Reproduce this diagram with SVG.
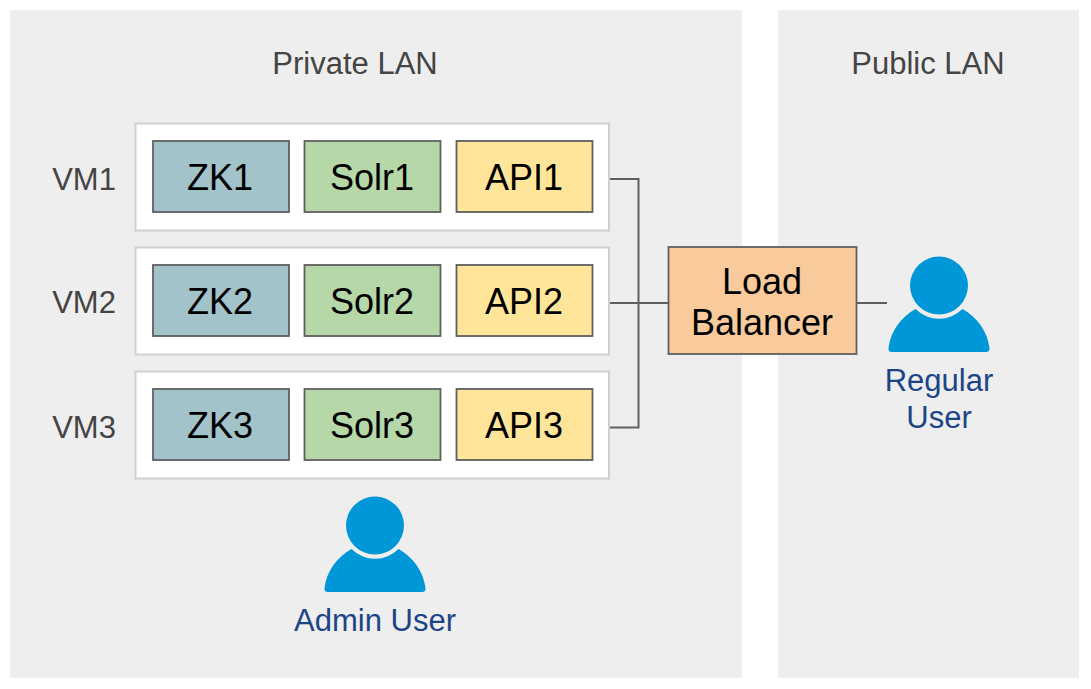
<svg xmlns="http://www.w3.org/2000/svg" width="1091" height="689" viewBox="0 0 1091 689">
<style>
text{font-family:"Liberation Sans",Arial,sans-serif;text-anchor:middle}
.lan{fill:#eeeeee}
.vm{fill:#fff;stroke:#d0d0d0;stroke-width:2}
.c{stroke:#5f5f5f;stroke-width:1.8}
.zk{fill:#a2c3c9}.solr{fill:#b6d7a8}.api{fill:#ffe599}.lb{fill:#f9cb9c}
.t{font-size:36px;fill:#000}
.l{font-size:31px;fill:#444}
.u{font-size:31px;fill:#1c4587}
.wire{fill:none;stroke:#5f5f5f;stroke-width:2}
.ic{fill:#0097d8}
</style>
<defs>
<g id="person">
<circle class="ic" cx="0" cy="0" r="29"/>
<path class="ic" d="M-23.500 23.500A33.500 33.500 0 0 0 23.500 23.500C38 31.500 48.500 46 50.500 62.500Q51 66.500 47 66.500H-47Q-51 66.500-50.500 62.500C-48.500 46-38 31.500-23.500 23.500Z"/>
</g>
</defs>
<rect width="1091" height="689" fill="#fff"/>
<g id="private-lan"><rect class="lan" x="10" y="10" width="732" height="668"/><text class="l" x="355" y="74">Private LAN</text></g>
<g id="public-lan"><rect class="lan" x="778" y="10" width="301" height="668"/><text class="l" x="928" y="74">Public LAN</text></g>
<g id="connectors">
<path class="wire" d="M609 179H638.500V427.500H609M609 303H668M857 303H887"/>
</g>
<g id="vm1"><rect class="vm" x="135.500" y="123.500" width="473.500" height="107"/><text class="l" x="84" y="190">VM1</text></g>
<g id="vm2"><rect class="vm" x="135.500" y="247.500" width="473.500" height="107"/><text class="l" x="84" y="313">VM2</text></g>
<g id="vm3"><rect class="vm" x="135.500" y="371.500" width="473.500" height="107"/><text class="l" x="84" y="438">VM3</text></g>
<g id="zk1"><rect class="c zk" x="153" y="141" width="136" height="71"/><text class="t" x="220" y="190">ZK1</text></g>
<g id="solr1"><rect class="c solr" x="304.500" y="141" width="136" height="71"/><text class="t" x="372" y="190">Solr1</text></g>
<g id="api1"><rect class="c api" x="456.500" y="141" width="136" height="71"/><text class="t" x="524" y="190">API1</text></g>
<g id="zk2"><rect class="c zk" x="153" y="265" width="136" height="71"/><text class="t" x="220" y="314">ZK2</text></g>
<g id="solr2"><rect class="c solr" x="304.500" y="265" width="136" height="71"/><text class="t" x="372" y="314">Solr2</text></g>
<g id="api2"><rect class="c api" x="456.500" y="265" width="136" height="71"/><text class="t" x="524" y="314">API2</text></g>
<g id="zk3"><rect class="c zk" x="153" y="389" width="136" height="71"/><text class="t" x="220" y="438">ZK3</text></g>
<g id="solr3"><rect class="c solr" x="304.500" y="389" width="136" height="71"/><text class="t" x="372" y="438">Solr3</text></g>
<g id="api3"><rect class="c api" x="456.500" y="389" width="136" height="71"/><text class="t" x="524" y="438">API3</text></g>
<g id="load-balancer"><rect class="c lb" x="668.500" y="247" width="188" height="107"/><text class="t" x="762" y="294">Load</text><text class="t" x="762" y="335">Balancer</text></g>
<g id="regular-user"><use href="#person" x="939" y="285.500"/><text class="u" x="939" y="391">Regular</text><text class="u" x="939" y="428">User</text></g>
<g id="admin-user"><use href="#person" x="375" y="525.500"/><text class="u" x="375" y="631">Admin User</text></g>
</svg>
